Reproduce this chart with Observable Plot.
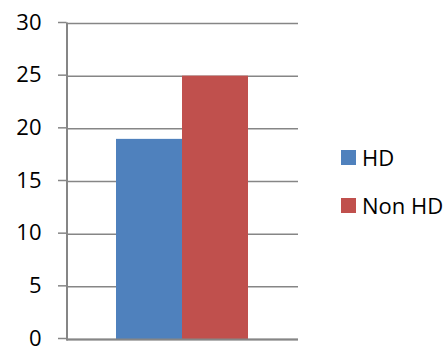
<!DOCTYPE html>
<html>
<head>
<meta charset="utf-8">
<script src="https://cdn.jsdelivr.net/npm/d3@7"></script>
<script src="https://cdn.jsdelivr.net/npm/@observablehq/plot@0.6"></script>
<style>
  html, body { margin: 0; padding: 0; background: #fff; }
  #wrap { position: relative; width: 447px; height: 347px; font-family: "Open Sans", sans-serif; }
  #legend { position: absolute; left: 341px; top: 145px; }
  .item { display: flex; align-items: center; height: 24px; margin-bottom: 24px; font-size: 22px; color: #000; white-space: nowrap; }
  .sw { width: 15px; height: 15px; margin-right: 6px; flex: none; }
</style>
</head>
<body>
<div id="wrap"></div>
<script>
const categories = ["HD", "Non HD"];
const values = [19, 25];
const colors = ["#4F81BD", "#C0504D"];
const yTicks = [0, 5, 10, 15, 20, 25, 30];

const data = categories.map((c, i) => ({category: c, value: values[i]}));

const chart = Plot.plot({
  width: 447,
  height: 347,
  marginTop: 23,
  marginBottom: 8,
  marginLeft: 66.5,
  marginRight: 149,
  style: {fontFamily: "Open Sans, sans-serif", fontSize: "22px", color: "#000", background: "#fff", overflow: "visible"},
  x: {domain: categories, paddingInner: 0, paddingOuter: 0.74, axis: null},
  y: {domain: [0, 30]},
  color: {domain: categories, range: colors},
  marks: [
    Plot.gridY(yTicks, {stroke: "#868686", strokeOpacity: 1, strokeWidth: 1.5}),
    Plot.barY(data, {x: "category", y: "value", fill: "category"}),
    Plot.axisY(yTicks, {tickSize: 8.5, tickPadding: 17, stroke: "#868686", strokeWidth: 1.5, label: null, fill: "#000", fontSize: 22, dy: -1}),
    Plot.frame({anchor: "left", stroke: "#868686", strokeWidth: 2}),
    Plot.ruleY([0], {stroke: "#868686", strokeWidth: 2})
  ]
});
document.getElementById("wrap").appendChild(chart);

const legend = document.createElement("div");
legend.id = "legend";
categories.forEach((c, i) => {
  const item = document.createElement("div");
  item.className = "item";
  const sw = document.createElement("span");
  sw.className = "sw";
  sw.style.background = colors[i];
  const t = document.createElement("span");
  t.textContent = c;
  item.appendChild(sw);
  item.appendChild(t);
  legend.appendChild(item);
});
document.getElementById("wrap").appendChild(legend);
</script>
</body>
</html>
